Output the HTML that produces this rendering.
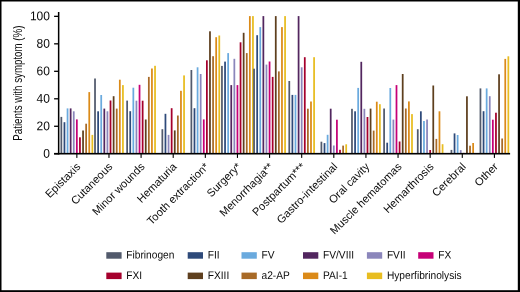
<!DOCTYPE html><html><head><meta charset="utf-8"><style>html,body{margin:0;padding:0;background:#fff}body{width:520px;height:292px;overflow:hidden;position:relative}svg{position:absolute;left:0;top:0;will-change:transform}text{font-family:"Liberation Sans",sans-serif;fill:#0a0a0a}</style></head><body>
<svg width="520" height="292" viewBox="0 0 520 292">
<rect x="0" y="0" width="520" height="292" fill="#fff"/>
<rect x="60.47" y="116.90" width="1.75" height="36.30" fill="#525a6c"/>
<rect x="63.57" y="122.20" width="1.75" height="31.00" fill="#2e4a7a"/>
<rect x="66.67" y="108.40" width="1.75" height="44.80" fill="#6aaade"/>
<rect x="69.77" y="108.40" width="1.75" height="44.80" fill="#52265f"/>
<rect x="72.88" y="111.30" width="1.75" height="41.90" fill="#8b86bb"/>
<rect x="75.97" y="119.40" width="1.75" height="33.80" fill="#c60077"/>
<rect x="79.07" y="137.30" width="1.75" height="15.90" fill="#a5002c"/>
<rect x="82.17" y="130.50" width="1.75" height="22.70" fill="#5e3f1e"/>
<rect x="85.27" y="123.70" width="1.75" height="29.50" fill="#a86a27"/>
<rect x="88.38" y="92.10" width="1.75" height="61.10" fill="#db8a18"/>
<rect x="91.47" y="134.90" width="1.75" height="18.30" fill="#e8bd20"/>
<rect x="94.14" y="78.50" width="1.75" height="74.70" fill="#525a6c"/>
<rect x="97.25" y="111.30" width="1.75" height="41.90" fill="#2e4a7a"/>
<rect x="100.34" y="95.00" width="1.75" height="58.20" fill="#6aaade"/>
<rect x="103.44" y="108.60" width="1.75" height="44.60" fill="#52265f"/>
<rect x="106.55" y="111.30" width="1.75" height="41.90" fill="#8b86bb"/>
<rect x="109.64" y="100.50" width="1.75" height="52.70" fill="#a5002c"/>
<rect x="112.75" y="96.20" width="1.75" height="57.00" fill="#5e3f1e"/>
<rect x="115.84" y="108.60" width="1.75" height="44.60" fill="#a86a27"/>
<rect x="118.94" y="79.70" width="1.75" height="73.50" fill="#db8a18"/>
<rect x="122.05" y="85.10" width="1.75" height="68.10" fill="#e8bd20"/>
<rect x="126.26" y="100.60" width="1.75" height="52.60" fill="#525a6c"/>
<rect x="129.36" y="111.20" width="1.75" height="42.00" fill="#2e4a7a"/>
<rect x="132.46" y="87.70" width="1.75" height="65.50" fill="#6aaade"/>
<rect x="135.56" y="100.70" width="1.75" height="52.50" fill="#8b86bb"/>
<rect x="138.66" y="84.80" width="1.75" height="68.40" fill="#c60077"/>
<rect x="141.76" y="100.70" width="1.75" height="52.50" fill="#a5002c"/>
<rect x="144.86" y="119.50" width="1.75" height="33.70" fill="#5e3f1e"/>
<rect x="147.96" y="76.90" width="1.75" height="76.30" fill="#a86a27"/>
<rect x="151.06" y="68.50" width="1.75" height="84.70" fill="#db8a18"/>
<rect x="154.16" y="65.80" width="1.75" height="87.40" fill="#e8bd20"/>
<rect x="161.48" y="129.20" width="1.75" height="24.00" fill="#525a6c"/>
<rect x="164.58" y="113.80" width="1.75" height="39.40" fill="#2e4a7a"/>
<rect x="167.68" y="134.90" width="1.75" height="18.30" fill="#8b86bb"/>
<rect x="170.78" y="108.20" width="1.75" height="45.00" fill="#a5002c"/>
<rect x="173.88" y="130.40" width="1.75" height="22.80" fill="#5e3f1e"/>
<rect x="176.98" y="115.50" width="1.75" height="37.70" fill="#a86a27"/>
<rect x="180.08" y="90.80" width="1.75" height="62.40" fill="#db8a18"/>
<rect x="183.18" y="75.40" width="1.75" height="77.80" fill="#e8bd20"/>
<rect x="190.50" y="70.00" width="1.75" height="83.20" fill="#525a6c"/>
<rect x="193.60" y="108.20" width="1.75" height="45.00" fill="#2e4a7a"/>
<rect x="196.70" y="67.30" width="1.75" height="85.90" fill="#6aaade"/>
<rect x="199.80" y="74.00" width="1.75" height="79.20" fill="#8b86bb"/>
<rect x="202.90" y="119.40" width="1.75" height="33.80" fill="#c60077"/>
<rect x="206.00" y="60.30" width="1.75" height="92.90" fill="#a5002c"/>
<rect x="209.10" y="31.30" width="1.75" height="121.90" fill="#5e3f1e"/>
<rect x="212.20" y="56.20" width="1.75" height="97.00" fill="#a86a27"/>
<rect x="215.30" y="37.20" width="1.75" height="116.00" fill="#db8a18"/>
<rect x="218.40" y="35.50" width="1.75" height="117.70" fill="#e8bd20"/>
<rect x="221.07" y="65.90" width="1.75" height="87.30" fill="#525a6c"/>
<rect x="224.17" y="61.60" width="1.75" height="91.60" fill="#2e4a7a"/>
<rect x="227.27" y="53.10" width="1.75" height="100.10" fill="#6aaade"/>
<rect x="230.38" y="85.10" width="1.75" height="68.10" fill="#52265f"/>
<rect x="233.47" y="58.80" width="1.75" height="94.40" fill="#8b86bb"/>
<rect x="236.57" y="85.10" width="1.75" height="68.10" fill="#c60077"/>
<rect x="239.67" y="42.30" width="1.75" height="110.90" fill="#a5002c"/>
<rect x="242.77" y="32.80" width="1.75" height="120.40" fill="#5e3f1e"/>
<rect x="245.88" y="53.10" width="1.75" height="100.10" fill="#a86a27"/>
<rect x="248.97" y="16.10" width="1.75" height="137.10" fill="#db8a18"/>
<rect x="252.07" y="16.10" width="1.75" height="137.10" fill="#e8bd20"/>
<rect x="253.19" y="68.70" width="1.75" height="84.50" fill="#525a6c"/>
<rect x="256.29" y="35.20" width="1.75" height="118.00" fill="#2e4a7a"/>
<rect x="259.39" y="27.10" width="1.75" height="126.10" fill="#6aaade"/>
<rect x="262.49" y="16.10" width="1.75" height="137.10" fill="#52265f"/>
<rect x="265.59" y="64.60" width="1.75" height="88.60" fill="#8b86bb"/>
<rect x="268.69" y="61.50" width="1.75" height="91.70" fill="#c60077"/>
<rect x="271.79" y="76.90" width="1.75" height="76.30" fill="#a5002c"/>
<rect x="274.89" y="16.10" width="1.75" height="137.10" fill="#5e3f1e"/>
<rect x="277.99" y="71.40" width="1.75" height="81.80" fill="#a86a27"/>
<rect x="281.09" y="27.10" width="1.75" height="126.10" fill="#db8a18"/>
<rect x="284.19" y="16.10" width="1.75" height="137.10" fill="#e8bd20"/>
<rect x="288.41" y="81.00" width="1.75" height="72.20" fill="#525a6c"/>
<rect x="291.51" y="94.90" width="1.75" height="58.30" fill="#2e4a7a"/>
<rect x="294.61" y="94.90" width="1.75" height="58.30" fill="#6aaade"/>
<rect x="297.71" y="16.10" width="1.75" height="137.10" fill="#52265f"/>
<rect x="300.81" y="67.30" width="1.75" height="85.90" fill="#8b86bb"/>
<rect x="303.91" y="57.20" width="1.75" height="96.00" fill="#a5002c"/>
<rect x="307.01" y="108.70" width="1.75" height="44.50" fill="#a86a27"/>
<rect x="310.11" y="101.50" width="1.75" height="51.70" fill="#db8a18"/>
<rect x="313.21" y="57.20" width="1.75" height="96.00" fill="#e8bd20"/>
<rect x="320.53" y="141.70" width="1.75" height="11.50" fill="#525a6c"/>
<rect x="323.63" y="143.10" width="1.75" height="10.10" fill="#2e4a7a"/>
<rect x="326.73" y="134.80" width="1.75" height="18.40" fill="#6aaade"/>
<rect x="329.83" y="108.70" width="1.75" height="44.50" fill="#52265f"/>
<rect x="332.93" y="145.50" width="1.75" height="7.70" fill="#8b86bb"/>
<rect x="336.03" y="119.70" width="1.75" height="33.50" fill="#c60077"/>
<rect x="339.13" y="149.80" width="1.75" height="3.40" fill="#a5002c"/>
<rect x="342.23" y="145.60" width="1.75" height="7.60" fill="#a86a27"/>
<rect x="345.33" y="144.30" width="1.75" height="8.90" fill="#e8bd20"/>
<rect x="351.10" y="108.80" width="1.75" height="44.40" fill="#525a6c"/>
<rect x="354.20" y="111.30" width="1.75" height="41.90" fill="#2e4a7a"/>
<rect x="357.30" y="87.90" width="1.75" height="65.30" fill="#6aaade"/>
<rect x="360.40" y="61.80" width="1.75" height="91.40" fill="#52265f"/>
<rect x="363.50" y="108.80" width="1.75" height="44.40" fill="#8b86bb"/>
<rect x="366.60" y="117.00" width="1.75" height="36.20" fill="#a5002c"/>
<rect x="369.70" y="108.60" width="1.75" height="44.60" fill="#5e3f1e"/>
<rect x="372.80" y="130.60" width="1.75" height="22.60" fill="#a86a27"/>
<rect x="375.90" y="101.70" width="1.75" height="51.50" fill="#db8a18"/>
<rect x="379.00" y="104.20" width="1.75" height="49.00" fill="#e8bd20"/>
<rect x="383.22" y="108.50" width="1.75" height="44.70" fill="#525a6c"/>
<rect x="386.32" y="142.70" width="1.75" height="10.50" fill="#2e4a7a"/>
<rect x="389.42" y="88.00" width="1.75" height="65.20" fill="#6aaade"/>
<rect x="392.52" y="119.60" width="1.75" height="33.60" fill="#8b86bb"/>
<rect x="395.62" y="85.10" width="1.75" height="68.10" fill="#c60077"/>
<rect x="398.72" y="141.50" width="1.75" height="11.70" fill="#a5002c"/>
<rect x="401.82" y="74.00" width="1.75" height="79.20" fill="#5e3f1e"/>
<rect x="404.92" y="108.50" width="1.75" height="44.70" fill="#a86a27"/>
<rect x="408.02" y="101.40" width="1.75" height="51.80" fill="#db8a18"/>
<rect x="411.12" y="114.10" width="1.75" height="39.10" fill="#e8bd20"/>
<rect x="416.89" y="129.20" width="1.75" height="24.00" fill="#525a6c"/>
<rect x="419.99" y="111.30" width="1.75" height="41.90" fill="#2e4a7a"/>
<rect x="423.09" y="121.00" width="1.75" height="32.20" fill="#6aaade"/>
<rect x="426.19" y="119.50" width="1.75" height="33.70" fill="#8b86bb"/>
<rect x="429.29" y="150.00" width="1.75" height="3.20" fill="#a5002c"/>
<rect x="432.39" y="85.50" width="1.75" height="67.70" fill="#5e3f1e"/>
<rect x="435.49" y="138.90" width="1.75" height="14.30" fill="#a86a27"/>
<rect x="438.59" y="111.30" width="1.75" height="41.90" fill="#db8a18"/>
<rect x="441.69" y="144.20" width="1.75" height="9.00" fill="#e8bd20"/>
<rect x="450.56" y="149.90" width="1.75" height="3.30" fill="#525a6c"/>
<rect x="453.66" y="133.40" width="1.75" height="19.80" fill="#2e4a7a"/>
<rect x="456.76" y="135.00" width="1.75" height="18.20" fill="#6aaade"/>
<rect x="459.86" y="150.10" width="1.75" height="3.10" fill="#8b86bb"/>
<rect x="462.96" y="152.90" width="1.75" height="0.30" fill="#a5002c"/>
<rect x="466.06" y="96.30" width="1.75" height="56.90" fill="#5e3f1e"/>
<rect x="469.16" y="145.70" width="1.75" height="7.50" fill="#a86a27"/>
<rect x="472.26" y="143.00" width="1.75" height="10.20" fill="#db8a18"/>
<rect x="479.58" y="88.40" width="1.75" height="64.80" fill="#525a6c"/>
<rect x="482.68" y="111.20" width="1.75" height="42.00" fill="#2e4a7a"/>
<rect x="485.78" y="88.40" width="1.75" height="64.80" fill="#6aaade"/>
<rect x="488.88" y="96.20" width="1.75" height="57.00" fill="#8b86bb"/>
<rect x="491.98" y="119.70" width="1.75" height="33.50" fill="#c60077"/>
<rect x="495.08" y="112.70" width="1.75" height="40.50" fill="#a5002c"/>
<rect x="498.18" y="74.30" width="1.75" height="78.90" fill="#5e3f1e"/>
<rect x="501.28" y="138.50" width="1.75" height="14.70" fill="#a86a27"/>
<rect x="504.38" y="58.90" width="1.75" height="94.30" fill="#db8a18"/>
<rect x="507.48" y="56.30" width="1.75" height="96.90" fill="#e8bd20"/>
<rect x="57.9" y="12" width="1.5" height="142.6" fill="#000"/>
<rect x="54.1" y="152.9" width="456" height="1.6" fill="#000"/>
<rect x="54.1" y="153.10" width="4" height="1.3" fill="#000"/>
<text transform="translate(49.9,157.70) rotate(0.06) scale(1,1.06)" font-size="12" text-anchor="end">0</text>
<rect x="54.1" y="125.62" width="4" height="1.3" fill="#000"/>
<text transform="translate(49.9,130.22) rotate(0.06) scale(1,1.06)" font-size="12" text-anchor="end">20</text>
<rect x="54.1" y="98.14" width="4" height="1.3" fill="#000"/>
<text transform="translate(49.9,102.74) rotate(0.06) scale(1,1.06)" font-size="12" text-anchor="end">40</text>
<rect x="54.1" y="70.66" width="4" height="1.3" fill="#000"/>
<text transform="translate(49.9,75.26) rotate(0.06) scale(1,1.06)" font-size="12" text-anchor="end">60</text>
<rect x="54.1" y="43.18" width="4" height="1.3" fill="#000"/>
<text transform="translate(49.9,47.78) rotate(0.06) scale(1,1.06)" font-size="12" text-anchor="end">80</text>
<rect x="54.1" y="15.70" width="4" height="1.3" fill="#000"/>
<text transform="translate(49.9,20.30) rotate(0.06) scale(1,1.06)" font-size="12" text-anchor="end">100</text>
<rect x="76.30" y="154" width="1.1" height="3.9" fill="#000"/>
<text transform="translate(81.10,167.35) rotate(-45)" font-size="11.05" text-anchor="end">Epistaxis</text>
<rect x="108.42" y="154" width="1.1" height="3.9" fill="#000"/>
<text transform="translate(113.22,167.35) rotate(-45)" font-size="11.05" text-anchor="end">Cutaneous</text>
<rect x="140.54" y="154" width="1.1" height="3.9" fill="#000"/>
<text transform="translate(145.34,167.35) rotate(-45)" font-size="11.05" text-anchor="end">Minor wounds</text>
<rect x="172.66" y="154" width="1.1" height="3.9" fill="#000"/>
<text transform="translate(177.46,167.35) rotate(-45)" font-size="11.05" text-anchor="end">Hematuria</text>
<rect x="204.78" y="154" width="1.1" height="3.9" fill="#000"/>
<text transform="translate(209.58,167.35) rotate(-45)" font-size="11.05" text-anchor="end">Tooth extraction*</text>
<rect x="236.90" y="154" width="1.1" height="3.9" fill="#000"/>
<text transform="translate(241.70,167.35) rotate(-45)" font-size="11.05" text-anchor="end">Surgery*</text>
<rect x="269.02" y="154" width="1.1" height="3.9" fill="#000"/>
<text transform="translate(273.82,167.35) rotate(-45)" font-size="11.05" text-anchor="end">Menorrhagia**</text>
<rect x="301.14" y="154" width="1.1" height="3.9" fill="#000"/>
<text transform="translate(305.94,167.35) rotate(-45)" font-size="11.05" text-anchor="end">Postpartum***</text>
<rect x="333.26" y="154" width="1.1" height="3.9" fill="#000"/>
<text transform="translate(338.06,167.35) rotate(-45)" font-size="11.05" text-anchor="end">Gastro-intestinal</text>
<rect x="365.38" y="154" width="1.1" height="3.9" fill="#000"/>
<text transform="translate(370.18,167.35) rotate(-45)" font-size="11.05" text-anchor="end">Oral cavity</text>
<rect x="397.50" y="154" width="1.1" height="3.9" fill="#000"/>
<text transform="translate(402.30,167.35) rotate(-45)" font-size="11.05" text-anchor="end">Muscle hematomas</text>
<rect x="429.62" y="154" width="1.1" height="3.9" fill="#000"/>
<text transform="translate(434.42,167.35) rotate(-45)" font-size="11.05" text-anchor="end">Hemarthrosis</text>
<rect x="461.74" y="154" width="1.1" height="3.9" fill="#000"/>
<text transform="translate(466.54,167.35) rotate(-45)" font-size="11.05" text-anchor="end">Cerebral</text>
<rect x="493.86" y="154" width="1.1" height="3.9" fill="#000"/>
<text transform="translate(498.66,167.35) rotate(-45)" font-size="11.05" text-anchor="end">Other</text>
<text transform="translate(21.7,83.1) rotate(-90) scale(0.76,1)" font-size="12.8" text-anchor="middle">Patients with symptom (%)</text>
<rect x="106.3" y="252.2" width="15.3" height="6.5" fill="#525a6c"/>
<text transform="translate(126.30,258.5) rotate(0.06) scale(1,1.09)" font-size="10.2">Fibrinogen</text>
<rect x="187.7" y="252.2" width="15.3" height="6.5" fill="#2e4a7a"/>
<text transform="translate(207.70,258.5) rotate(0.06) scale(1,1.09)" font-size="10.2">FII</text>
<rect x="241.5" y="252.2" width="15.3" height="6.5" fill="#6aaade"/>
<text transform="translate(261.50,258.5) rotate(0.06) scale(1,1.09)" font-size="10.2">FV</text>
<rect x="303.0" y="252.2" width="15.3" height="6.5" fill="#52265f"/>
<text transform="translate(323.00,258.5) rotate(0.06) scale(1,1.09)" font-size="10.2">FV/VIII</text>
<rect x="366.9" y="252.2" width="15.3" height="6.5" fill="#8b86bb"/>
<text transform="translate(386.90,258.5) rotate(0.06) scale(1,1.09)" font-size="10.2">FVII</text>
<rect x="418.2" y="252.2" width="15.3" height="6.5" fill="#c60077"/>
<text transform="translate(438.20,258.5) rotate(0.06) scale(1,1.09)" font-size="10.2">FX</text>
<rect x="106.3" y="272.6" width="15.3" height="6.5" fill="#a5002c"/>
<text transform="translate(126.30,278.9) rotate(0.06) scale(1,1.09)" font-size="10.2">FXI</text>
<rect x="187.7" y="272.6" width="15.3" height="6.5" fill="#5e3f1e"/>
<text transform="translate(207.70,278.9) rotate(0.06) scale(1,1.09)" font-size="10.2">FXIII</text>
<rect x="241.5" y="272.6" width="15.3" height="6.5" fill="#a86a27"/>
<text transform="translate(261.50,278.9) rotate(0.06) scale(1,1.09)" font-size="10.2">a2-AP</text>
<rect x="303.0" y="272.6" width="15.3" height="6.5" fill="#db8a18"/>
<text transform="translate(323.00,278.9) rotate(0.06) scale(1,1.09)" font-size="10.2">PAI-1</text>
<rect x="366.9" y="272.6" width="15.3" height="6.5" fill="#e8bd20"/>
<text transform="translate(386.90,278.9) rotate(0.06) scale(1,1.09)" font-size="10.2">Hyperfibrinolysis</text>
<rect x="0" y="0" width="520" height="1.5" fill="#000"/>
<rect x="0" y="0" width="1.5" height="292" fill="#000"/>
<rect x="517.8" y="0" width="2.2" height="292" fill="#000"/>
<rect x="0" y="290.2" width="520" height="1.8" fill="#000"/>
</svg></body></html>
